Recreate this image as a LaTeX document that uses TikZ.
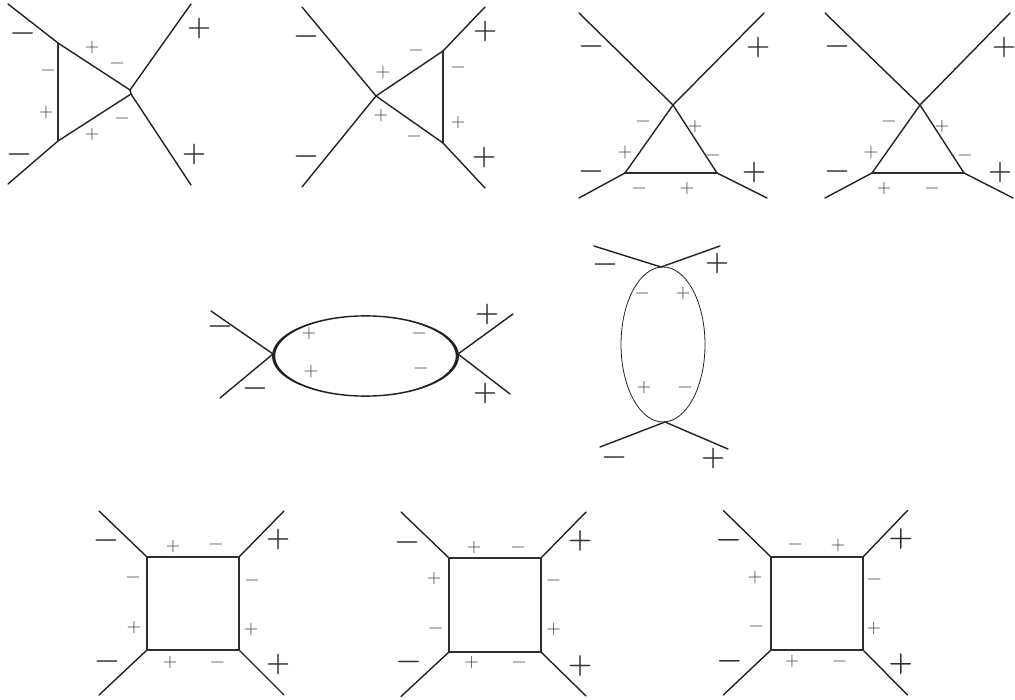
\documentclass[tikz,border=0pt]{standalone}
\usepackage{fontspec}
\newfontfamily\bigsignfont{Latin Modern Roman}[FakeBold=0.4]
\definecolor{ink}{HTML}{222222}
\definecolor{loopc}{HTML}{2E2E2E}
\definecolor{bigc}{HTML}{303030}
\definecolor{smallc}{HTML}{383838}
\tikzset{
  ln/.style={draw=ink,line width=1.4pt,line cap=round,line join=round},
  looper/.style={draw=loopc,line width=1.8pt,line cap=round,line join=round},
  bigsign/.style={inner sep=0pt,outer sep=0pt,text=bigc,text height=19.24pt,text depth=2.74pt,font=\bigsignfont\fontsize{33}{33}\selectfont},
  smallsign/.style={inner sep=0pt,outer sep=0pt,text=smallc,text height=11.66pt,text depth=1.66pt,font=\fontsize{20}{20}\selectfont}
}
\begin{document}
\begin{tikzpicture}[x=1pt,y=-1pt]
\useasboundingbox (0,0) rectangle (1015,700);
% --- diagram 1
\coordinate (a1) at (8,4); \coordinate (a2) at (191,4); \coordinate (a3) at (8,184); \coordinate (a4) at (191,185);
\coordinate (at) at (58,43); \coordinate (ab) at (58,141); \coordinate (ar) at (130,90); \coordinate (as) at (131,94);
\draw[ln] (a1) -- (at); \draw[ln] (a3) -- (ab); \draw[ln] (a2) -- (ar); \draw[ln] (a4) -- (as);
\draw[ln] (ar) -- (at); \draw[ln] (ab) -- (as); \draw[ln] (ar) -- (as); \draw[looper] (at) -- (ab);
\node[bigsign] (aA) at (22.5,33) {−}; \node[bigsign] (aB) at (199,28) {+}; \node[bigsign] (aC) at (19,154) {−}; \node[bigsign] (aD) at (194,154) {+};
\node[smallsign] (aa) at (92,48) {+}; \node[smallsign] (ab1) at (117,64) {−}; \node[smallsign] (ac) at (48,71) {−};
\node[smallsign] (ad) at (46,113) {+}; \node[smallsign] (ae) at (92,135) {+}; \node[smallsign] (af) at (122,119) {−};
% --- diagram 2
\coordinate (b1) at (302,7); \coordinate (b2) at (485,7); \coordinate (b3) at (302,187); \coordinate (b4) at (485,188);
\coordinate (bc) at (376,96); \coordinate (bt) at (443,51); \coordinate (bb) at (443,143);
\draw[ln] (b1) -- (bc); \draw[ln] (b3) -- (bc); \draw[ln] (b2) -- (bt); \draw[ln] (b4) -- (bb);
\draw[ln] (bc) -- (bt); \draw[ln] (bc) -- (bb); \draw[looper] (bt) -- (bb);
\node[bigsign] (bA) at (306,36) {−}; \node[bigsign] (bB) at (485,31) {+}; \node[bigsign] (bC) at (306,156) {−}; \node[bigsign] (bD) at (484,157) {+};
\node[smallsign] (ba) at (383,73) {+}; \node[smallsign] (bb1) at (416,51) {−}; \node[smallsign] (bc1) at (458,68) {−};
\node[smallsign] (bd) at (458,123) {+}; \node[smallsign] (be) at (381,116) {+}; \node[smallsign] (bf) at (414,137) {−};
% --- diagram 3
\coordinate (c1) at (579,13); \coordinate (c2) at (764,13); \coordinate (c3) at (579,198); \coordinate (c4) at (767,198);
\coordinate (cc) at (673,105); \coordinate (cl) at (625,173); \coordinate (cr) at (717,173);
\draw[ln] (c1) -- (cc); \draw[ln] (c2) -- (cc); \draw[ln] (c3) -- (cl); \draw[ln] (c4) -- (cr);
\draw[ln] (cl) -- (cc) -- (cr); \draw[looper] (cl) -- (cr);
\node[bigsign] (cA) at (591,46) {−}; \node[bigsign] (cB) at (758,47) {+}; \node[bigsign] (cC) at (591,171) {−}; \node[bigsign] (cD) at (754,172) {+};
\node[smallsign] (ca) at (643,122) {−}; \node[smallsign] (cb) at (695,127) {+}; \node[smallsign] (cc1) at (625,153) {+};
\node[smallsign] (cd) at (713,156) {−}; \node[smallsign] (ce) at (639,189) {−}; \node[smallsign] (cf) at (687,189) {+};
% --- diagram 4
\coordinate (d1) at (825,13); \coordinate (d2) at (1010,13); \coordinate (d3) at (825,198); \coordinate (d4) at (1013,198);
\coordinate (dc) at (920,105); \coordinate (dl) at (872,173); \coordinate (dr) at (964,173);
\draw[ln] (d1) -- (dc); \draw[ln] (d2) -- (dc); \draw[ln] (d3) -- (dl); \draw[ln] (d4) -- (dr);
\draw[ln] (dl) -- (dc) -- (dr); \draw[looper] (dl) -- (dr);
\node[bigsign] (dA) at (837,46) {−}; \node[bigsign] (dB) at (1004,47) {+}; \node[bigsign] (dC) at (837,171) {−}; \node[bigsign] (dD) at (1000,172) {+};
\node[smallsign] (da) at (889,122) {−}; \node[smallsign] (db) at (942,127) {+}; \node[smallsign] (dc1) at (871,153) {+};
\node[smallsign] (dd) at (965,156) {−}; \node[smallsign] (de) at (884,189) {+}; \node[smallsign] (df) at (932,189) {−};
% --- horizontal oval
\coordinate (e1) at (211,311); \coordinate (e3) at (220,398); \coordinate (e2) at (513,314); \coordinate (e4) at (510,394);
\coordinate (el) at (273,354); \coordinate (er) at (458,354);
\draw[ln] (e1) -- (el); \draw[ln] (e3) -- (el); \draw[ln] (e2) -- (er); \draw[ln] (e4) -- (er);
\fill[ink,even odd rule] (365.5,356) ellipse [x radius=93.5,y radius=40.8] (365.5,356) ellipse [x radius=90.3,y radius=39.4];
\node[bigsign] (eA) at (220,326) {−}; \node[bigsign] (eB) at (487,314) {+}; \node[bigsign] (eC) at (255,388) {−}; \node[bigsign] (eD) at (485,393) {+};
\node[smallsign] (ea) at (309,334) {+}; \node[smallsign] (eb) at (419,334) {−}; \node[smallsign] (ec) at (311,372) {+}; \node[smallsign] (ed) at (421,369) {−};
% --- vertical oval
\coordinate (f1) at (594,246); \coordinate (f2) at (720,246); \coordinate (f3) at (600,447); \coordinate (f4) at (728,449);
\coordinate (ft) at (661,267); \coordinate (fb) at (665,422);
\draw[ln] (f1) -- (ft); \draw[ln] (f2) -- (ft); \draw[ln] (f3) -- (fb); \draw[ln] (f4) -- (fb);
\draw[draw=ink,line width=0.8pt] (663,344.5) ellipse [x radius=42,y radius=77.5];
\node[bigsign] (fA) at (605,264) {−}; \node[bigsign] (fB) at (717,263) {+}; \node[bigsign] (fC) at (614,457) {−}; \node[bigsign] (fD) at (713,458) {+};
\node[smallsign] (fa) at (642,294) {−}; \node[smallsign] (fb1) at (683,294) {+}; \node[smallsign] (fc) at (644,388) {+}; \node[smallsign] (fd) at (685,388) {−};
% --- square 1
\coordinate (g1) at (99,511); \coordinate (g2) at (284,511); \coordinate (g3) at (99,695); \coordinate (g4) at (284,695);
\coordinate (gA) at (147,557); \coordinate (gB) at (239,557); \coordinate (gC) at (147,650); \coordinate (gD) at (239,650);
\draw[ln] (g1) -- (gA); \draw[ln] (g2) -- (gB); \draw[ln] (g3) -- (gC); \draw[ln] (g4) -- (gD);
\draw[looper] (gA) -- (gB) -- (gD) -- (gC) -- cycle;
\node[bigsign] (gP) at (106,540) {−}; \node[bigsign] (gQ) at (278,539) {+}; \node[bigsign] (gR) at (107,661) {−}; \node[bigsign] (gS) at (278,664) {+};
\node[smallsign] (ga) at (173,546) {+}; \node[smallsign] (gb) at (216,544) {−}; \node[smallsign] (gc) at (133,577) {−}; \node[smallsign] (gd) at (252,580) {−};
\node[smallsign] (ge) at (134,627) {+}; \node[smallsign] (gf) at (251,629) {+}; \node[smallsign] (gg) at (170,662) {+}; \node[smallsign] (gh) at (217.5,662) {−};
% --- square 2
\coordinate (h1) at (401,512); \coordinate (h2) at (586,512); \coordinate (h3) at (401,696.5); \coordinate (h4) at (586,696);
\coordinate (hA) at (449,558); \coordinate (hB) at (541,558); \coordinate (hC) at (449,652); \coordinate (hD) at (541,652);
\draw[ln] (h1) -- (hA); \draw[ln] (h2) -- (hB); \draw[ln] (h3) -- (hC); \draw[ln] (h4) -- (hD);
\draw[looper] (hA) -- (hB) -- (hD) -- (hC) -- cycle;
\node[bigsign] (hP) at (407,542) {−}; \node[bigsign] (hQ) at (580,540.5) {+}; \node[bigsign] (hR) at (408.5,661.5) {−}; \node[bigsign] (hS) at (580,665.5) {+};
\node[smallsign] (ha) at (474,547) {+}; \node[smallsign] (hb) at (518,547) {−}; \node[smallsign] (hc) at (434,578) {+}; \node[smallsign] (hd) at (553.5,580) {−};
\node[smallsign] (he) at (435.5,628) {−}; \node[smallsign] (hf) at (553.5,629) {+}; \node[smallsign] (hg) at (471.5,662.5) {+}; \node[smallsign] (hh) at (519,662.5) {−};
% --- square 3
\coordinate (i1) at (723.3,510.5); \coordinate (i2) at (907.5,510.5); \coordinate (i3) at (723.3,695); \coordinate (i4) at (907.5,695);
\coordinate (iA) at (771,557); \coordinate (iB) at (863,557); \coordinate (iC) at (771,650); \coordinate (iD) at (863,650);
\draw[ln] (i1) -- (iA); \draw[ln] (i2) -- (iB); \draw[ln] (i3) -- (iC); \draw[ln] (i4) -- (iD);
\draw[looper] (iA) -- (iB) -- (iD) -- (iC) -- cycle;
\node[bigsign] (iP) at (728.5,539.7) {−}; \node[bigsign] (iQ) at (900.7,538.5) {+}; \node[bigsign] (iR) at (729.3,660.7) {−}; \node[bigsign] (iS) at (900.7,663.7) {+};
\node[smallsign] (ia) at (795,544.3) {−}; \node[smallsign] (ib) at (838,545.3) {+}; \node[smallsign] (ic) at (755,577.3) {+}; \node[smallsign] (id) at (874.3,579.3) {−};
\node[smallsign] (ie) at (756.3,626.7) {−}; \node[smallsign] (if) at (873.7,628.3) {+}; \node[smallsign] (ig) at (792,661.7) {+}; \node[smallsign] (ih) at (839.7,661.7) {−};
\end{tikzpicture}
\end{document}
